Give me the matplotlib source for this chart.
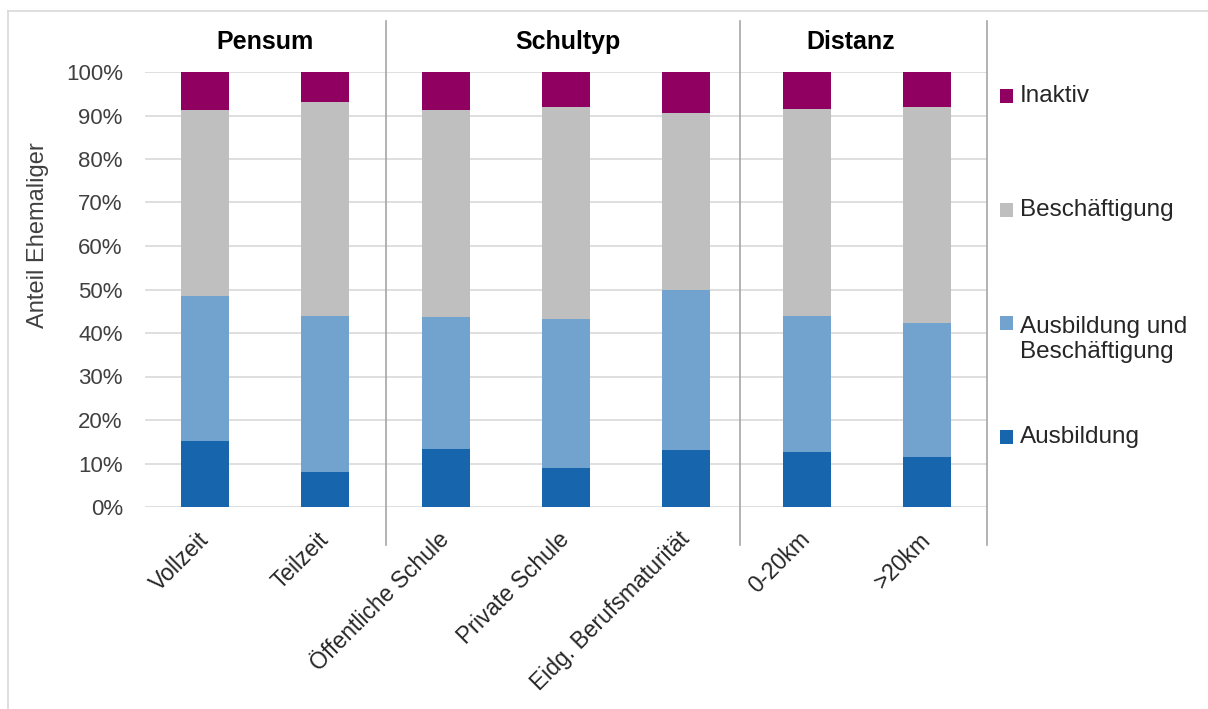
import numpy as np
import matplotlib
matplotlib.use("Agg")
import matplotlib.pyplot as plt
import matplotlib.transforms as mtransforms
from matplotlib.patches import Rectangle

plt.rcParams["font.family"] = ["Liberation Sans", "DejaVu Sans"]

# Kategorien und Anteile (in %)
categories = ["Vollzeit", "Teilzeit", "Öffentliche Schule", "Private Schule",
              "Eidg. Berufsmaturität", "0-20km", ">20km"]
ausbildung = [15.2, 8.1, 13.3, 8.9, 13.0, 12.6, 11.4]
ausb_besch = [33.2, 35.9, 30.3, 34.3, 37.0, 31.4, 31.0]
beschaeftigung = [42.8, 49.1, 47.6, 48.7, 40.5, 47.6, 49.6]
inaktiv = [8.8, 6.9, 8.8, 8.1, 9.5, 8.4, 8.0]

series_names = ["Ausbildung", "Ausbildung und\nBeschäftigung", "Beschäftigung", "Inaktiv"]
series_colors = ["#1765AD", "#72A3CF", "#BFBFBF", "#8F0060"]

groups = ["Pensum", "Schultyp", "Distanz"]
group_pos = [0.5, 3.02, 5.37]
separators = [1.5, 4.45, 6.5]

fig = plt.figure(figsize=(12.08, 7.09), dpi=100)
W, H = 1208, 709
ax = fig.add_axes([145 / W, 1 - 507 / H, (987 - 145) / W, (507 - 72) / H])

x = np.arange(len(categories))
bottom = np.zeros(len(categories))
for vals, col in zip([ausbildung, ausb_besch, beschaeftigung, inaktiv], series_colors):
    v = np.array(vals) / 100.0
    ax.bar(x, v, width=0.4, bottom=bottom, color=col, zorder=3)
    bottom += v

ax.set_xlim(-0.5, 6.5)
ax.set_ylim(0, 1)
ax.set_yticks(np.arange(0, 1.01, 0.1))
ax.set_yticklabels([f"{int(round(t * 100))}%" for t in np.arange(0, 1.01, 0.1)])
ax.yaxis.grid(True, color="#D9D9D9", linewidth=1.2, zorder=0)
ax.tick_params(axis="y", length=0, pad=16, labelsize=16, labelcolor="#404040")
ax.tick_params(axis="x", length=0, pad=15, labelsize=16.5, labelcolor="#262626")
for s in ax.spines.values():
    s.set_visible(False)

ax.set_xticks(x)
ax.set_xticklabels(categories, rotation=45, ha="right", va="top", rotation_mode="anchor")
offset = mtransforms.ScaledTranslation(-8 / 100, 0, fig.dpi_scale_trans)
for lbl in ax.get_xticklabels():
    lbl.set_transform(lbl.get_transform() + offset)

# Trennlinien zwischen den Gruppen
for sx in separators:
    ax.axvline(sx, ymin=-0.0874, ymax=1.117, color="#A6A6A6", linewidth=1.2, clip_on=False, zorder=2)

trans = mtransforms.blended_transform_factory(ax.transData, ax.transAxes)
for g, gx in zip(groups, group_pos):
    ax.text(gx, 1.069, g, transform=trans, ha="center", va="center",
            fontsize=18, fontweight="bold", color="black")

fig.text(38 / W, 1 - 235 / H, "Anteil Ehemaliger", rotation=90, ha="center", va="center",
         fontsize=17, color="#404040")

# Legende
legend_y = [437, 323, 210, 96]
for name, col, ly in zip(series_names, series_colors, legend_y):
    fig.patches.append(Rectangle((1000 / W, 1 - (ly + 7) / H), 13 / W, 14 / H,
                                 transform=fig.transFigure, facecolor=col, edgecolor="none"))
    if "\n" in name:
        fig.text(1020 / W, 1 - ly / H, name, ha="left", va="top", fontsize=17.5,
                 color="#262626", linespacing=1.15,
                 transform=fig.transFigure + mtransforms.ScaledTranslation(0, 0.07, fig.dpi_scale_trans))
    else:
        fig.text(1020 / W, 1 - ly / H, name, ha="left", va="center", fontsize=17.5,
                 color="#262626")

# Rahmen
fig.add_artist(plt.Line2D([8 / W, 1], [1 - 11 / H, 1 - 11 / H], color="#D9D9D9", linewidth=1.2))
fig.add_artist(plt.Line2D([8 / W, 8 / W], [0, 1 - 11 / H], color="#D9D9D9", linewidth=1.2))

fig.savefig("out.png", dpi=100)
